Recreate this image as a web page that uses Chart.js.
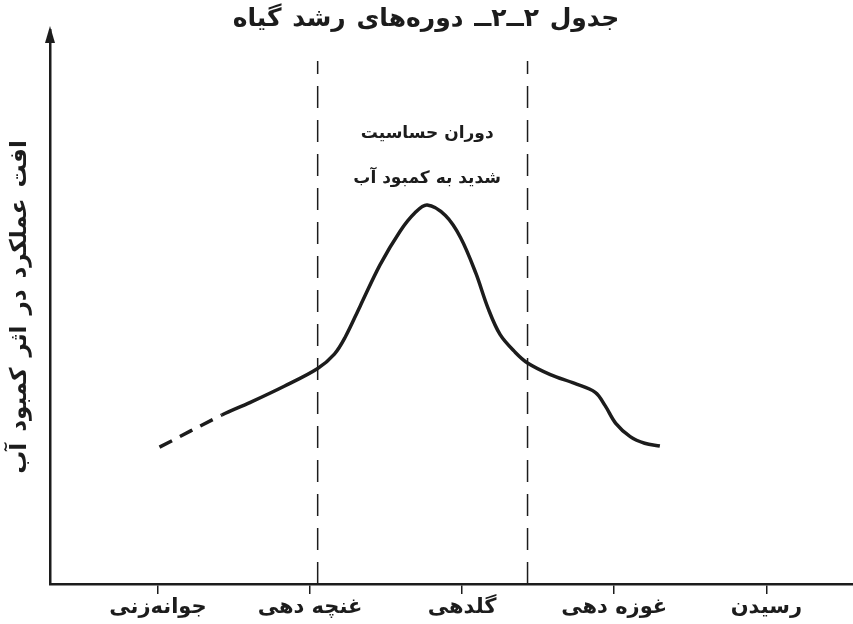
<!DOCTYPE html>
<html>
<head>
<meta charset="utf-8">
<script src="https://cdn.jsdelivr.net/npm/chart.js@4.4.1/dist/chart.umd.min.js"></script>
<style>
  html, body { margin:0; padding:0; background:#fff; }
  #wrap { width:853px; height:624px; position:relative; }
</style>
</head>
<body>
<div id="wrap"><canvas id="chart" dir="rtl"></canvas></div>
<script>
// ===== DATA =====
const stageLabels = ["جوانه‌زنی", "غنچه دهی", "گلدهی", "غوزه دهی", "رسیدن"];
const stageTicks = [1, 2, 3, 4, 5];

// curve: x in growth-stage units, y = yield loss (0..100 of the axis height)
const curveX = [1.01, 1.42, 1.6, 1.83, 2.05, 2.16, 2.23, 2.33, 2.46, 2.59, 2.69, 2.77,
                2.89, 2.99, 3.09, 3.17, 3.25, 3.35, 3.43, 3.58, 3.74, 3.875, 3.94, 4.01, 4.105, 4.2, 4.3];
const curveY = [24.7, 30.5, 32.7, 35.7, 38.9, 41.5, 44.5, 50.2, 57.6, 63.6, 67.0, 68.4,
                66.5, 62.5, 56.1, 49.8, 45.0, 41.8, 39.9, 37.8, 36.2, 34.6, 32.2, 29.0, 26.6, 25.4, 24.9];
const dashedUntil = 1;  // first segment drawn dashed

const sensStart = 2.05;
const sensEnd = 3.43;
const sensTop = 94.4;

const titleText = "جدول ۲ــ۲ــ دوره‌های رشد گیاه";
const yTitle = "افت عملکرد در اثر کمبود آب";
const noteLines = ["دوران حساسیت", "شدید به کمبود آب"];
const noteX = 2.77;
const noteY = [81.3, 73.2];

const INK = "#1c1c1c";
const FONT = "'DejaVu Sans', sans-serif";

// ===== PLUGIN: title, arrow, y title, note =====
const extras = {
  id: "extras",
  afterDraw(chart){
    const ctx = chart.ctx;
    const a = chart.chartArea;
    const xs = chart.scales.x, ys = chart.scales.y;
    ctx.save();
    ctx.fillStyle = INK;
    ctx.direction = "rtl";
    ctx.textAlign = "center";
    ctx.textBaseline = "middle";

    // arrow head on y axis
    ctx.beginPath();
    ctx.moveTo(a.left, a.top - 4);
    ctx.lineTo(a.left - 5, a.top + 13);
    ctx.lineTo(a.left + 5, a.top + 13);
    ctx.closePath();
    ctx.fill();

    // title
    ctx.font = "bold 25px " + FONT;
    ctx.wordSpacing = "2px";
    ctx.fillText(titleText, 426, 19);

    // y axis title (rotated)
    ctx.save();
    ctx.font = "bold 23px " + FONT;
    ctx.wordSpacing = "3px";
    ctx.translate(20, (a.top + a.bottom) / 2);
    ctx.rotate(-Math.PI / 2);
    ctx.fillText(yTitle, 0, 0);
    ctx.restore();

    // note between the dashed lines
    ctx.font = "bold 17px " + FONT;
    ctx.wordSpacing = "0px";
    noteLines.forEach((t, i)=>{
      ctx.fillText(t, xs.getPixelForValue(noteX), ys.getPixelForValue(noteY[i]));
    });
    ctx.restore();
  }
};

// ===== CHART =====
const ctx = document.getElementById("chart").getContext("2d");

new Chart(ctx, {
  type: "line",
  data: {
    datasets: [
      {
        data: curveX.map((x, i)=>({x, y: curveY[i]})),
        borderColor: INK,
        borderWidth: 3.5,
        pointRadius: 0,
        tension: 0.35,
        fill: false,
        segment: {
          borderDash: c => c.p1DataIndex <= dashedUntil ? [14, 9] : undefined
        }
      },
      {
        data: [{x: sensStart, y: 0}, {x: sensStart, y: sensTop}],
        borderColor: INK, borderWidth: 1.5, borderDash: [22, 12], pointRadius: 0
      },
      {
        data: [{x: sensEnd, y: 0}, {x: sensEnd, y: sensTop}],
        borderColor: INK, borderWidth: 1.5, borderDash: [22, 12], pointRadius: 0
      }
    ]
  },
  options: {
    responsive: true,
    maintainAspectRatio: false,
    animation: false,
    layout: { padding: { top: 30, right: 0, left: 0, bottom: 0 } },
    plugins: { legend: { display: false }, tooltip: { enabled: false }, title: { display: false } },
    scales: {
      x: {
        type: "linear",
        min: 0.29, max: 5.57,
        afterBuildTicks: s => { s.ticks = stageTicks.map(v => ({value: v})); },
        afterFit: s => { s.height = 40; },
        grid: { display: true, drawOnChartArea: false, drawTicks: true, tickLength: 10, color: INK, lineWidth: 1.5 },
        border: { display: true, color: INK, width: 2.5 },
        ticks: {
          color: INK, padding: 1,
          font: { family: FONT, size: 21, weight: "bold" },
          callback: v => stageLabels[stageTicks.indexOf(v)] || ""
        }
      },
      y: {
        min: 0, max: 100,
        afterFit: s => { s.width = 50; },
        grid: { display: false },
        border: { display: true, color: INK, width: 2.5 },
        ticks: { display: false }
      }
    }
  },
  plugins: [extras]
});
</script>
</body>
</html>
